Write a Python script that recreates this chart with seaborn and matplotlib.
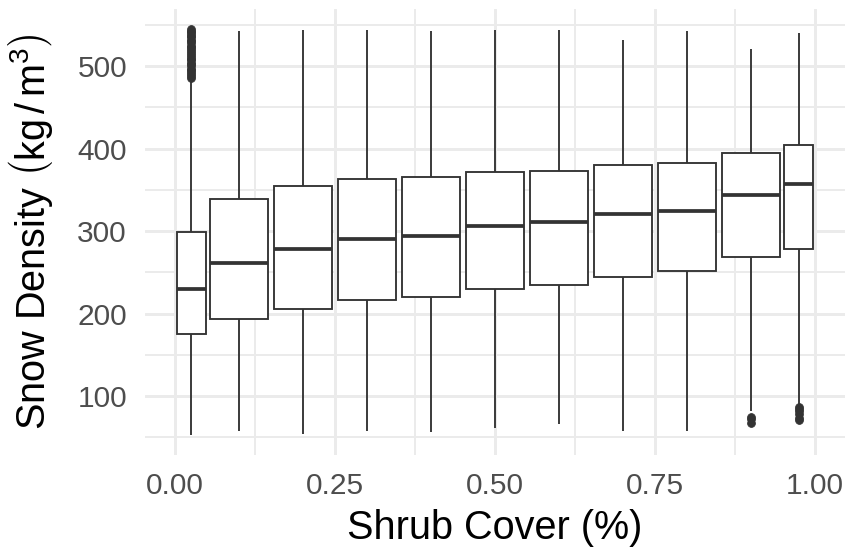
import numpy as np
import pandas as pd
import matplotlib
matplotlib.use("Agg")
import matplotlib.pyplot as plt
from matplotlib.ticker import FixedLocator
import seaborn as sns

# Shrub-cover bins (bin centres) and box-plot summary of snow density per bin
cover = [0.025, 0.1, 0.2, 0.3, 0.4, 0.5, 0.6, 0.7, 0.8, 0.9, 0.975]
whisker_low = [53, 58, 54, 58, 57, 61, 66, 58, 58, 82, 91]
q1 = [175, 193, 206, 216, 220, 230, 235, 245, 252, 269, 278]
median = [230, 262, 278, 291, 294, 306, 311, 321, 325, 344, 357]
q3 = [299, 339, 355, 363, 366, 372, 373, 380, 383, 395, 404]
whisker_high = [484, 543, 544, 544, 543, 544, 544, 532, 543, 521, 540]

# Outlying observations
outliers_high_first = [486, 488, 490, 493, 495, 497, 500, 502, 504, 507,
                       509, 511, 514, 516, 518, 521, 523, 525, 528, 530,
                       532, 535, 537, 539, 541, 543, 545]
outliers_low_090 = [75, 72, 68]
outliers_low_098 = [87, 84, 82, 79, 74, 71]

x_ticks = [0.0, 0.25, 0.5, 0.75, 1.0]
x_tick_labels = ["0.00", "0.25", "0.50", "0.75", "1.00"]
y_ticks = [100, 200, 300, 400, 500]


def bin_sample(lo, a, m, b, hi, low_out=(), high_out=()):
    """Observations whose quartiles/whiskers reproduce the given summary."""
    k = max(len(low_out), len(high_out)) + 1
    return (list(low_out) + [lo] * (k - len(low_out)) + [a] * k + [m]
            + [b] * k + [hi] * (k - len(high_out)) + list(high_out))


high_out = {0.025: outliers_high_first}
low_out = {0.9: outliers_low_090, 0.975: outliers_low_098}

rows = []
for i, c in enumerate(cover):
    vals = bin_sample(whisker_low[i], q1[i], median[i], q3[i], whisker_high[i],
                      low_out.get(c, ()), high_out.get(c, ()))
    rows += [(c, v) for v in vals]
df = pd.DataFrame(rows, columns=["cover", "density"])

edge_bins = df["cover"].isin([cover[0], cover[-1]])
inner = df[~edge_bins]
edges = df[edge_bins]

sns.set_style("white")
plt.rcParams["font.family"] = ["Liberation Sans", "DejaVu Sans"]
plt.rcParams["mathtext.fontset"] = "custom"
plt.rcParams["mathtext.rm"] = "Liberation Sans"
plt.rcParams["mathtext.it"] = "Liberation Sans:italic"

W, H = 847, 550
fig = plt.figure(figsize=(W / 100, H / 100), dpi=100)
ax = fig.add_axes([145 / W, 1 - 455.3 / H, 700 / W, 446.6 / H])

line_col = "#333333"
box_kws = dict(
    x="cover", y="density", native_scale=True, color="white",
    linecolor=line_col, linewidth=1.35, fliersize=5.6, showcaps=False,
    medianprops=dict(linewidth=2.7, color=line_col),
    flierprops=dict(marker="o", markerfacecolor=line_col,
                    markeredgecolor=line_col, markeredgewidth=0.6),
    ax=ax,
)
# interior bins span 0.1 in cover, the two end bins only 0.05
sns.boxplot(data=inner, width=0.9, **box_kws)
sns.boxplot(data=edges, width=0.045 / (cover[-1] - cover[0]), **box_kws)

# ggplot-like 5% expansion around the data extent
x_lo, x_hi = cover[0] - 0.0225, cover[-1] + 0.0225
xr = x_hi - x_lo
ax.set_xlim(x_lo - 0.05 * xr, x_hi + 0.05 * xr)
y_lo = min(whisker_low + outliers_low_090 + outliers_low_098)
y_hi = max(whisker_high + outliers_high_first)
yr = y_hi - y_lo
ax.set_ylim(y_lo - 0.05 * yr, y_hi + 0.05 * yr)

ax.set_xticks(x_ticks)
ax.set_xticklabels(x_tick_labels)
ax.set_yticks(y_ticks)
ax.xaxis.set_minor_locator(FixedLocator([0.125, 0.375, 0.625, 0.875]))
ax.yaxis.set_minor_locator(FixedLocator([50, 150, 250, 350, 450, 550]))

grid_col = "#EBEBEB"
ax.set_axisbelow(True)
ax.grid(which="major", color=grid_col, linewidth=2.1)
ax.grid(which="minor", color=grid_col, linewidth=1.4)
for s in ax.spines.values():
    s.set_visible(False)

ax.tick_params(axis="both", which="both", length=0, labelsize=21.5,
               labelcolor="#4D4D4D")
ax.tick_params(axis="x", pad=12)
ax.tick_params(axis="y", pad=13)

ax.set_xlabel("Shrub Cover (%)", fontsize=28.5, color="black")
ax.set_ylabel(r"Snow Density $\left(\mathrm{kg\,/\,m^{3}}\right)$",
              fontsize=28.5, color="black")
ax.xaxis.set_label_coords(0.5, -0.121)
ax.yaxis.set_label_coords(-0.1286, 0.5)

fig.savefig("out.png", dpi=100)
